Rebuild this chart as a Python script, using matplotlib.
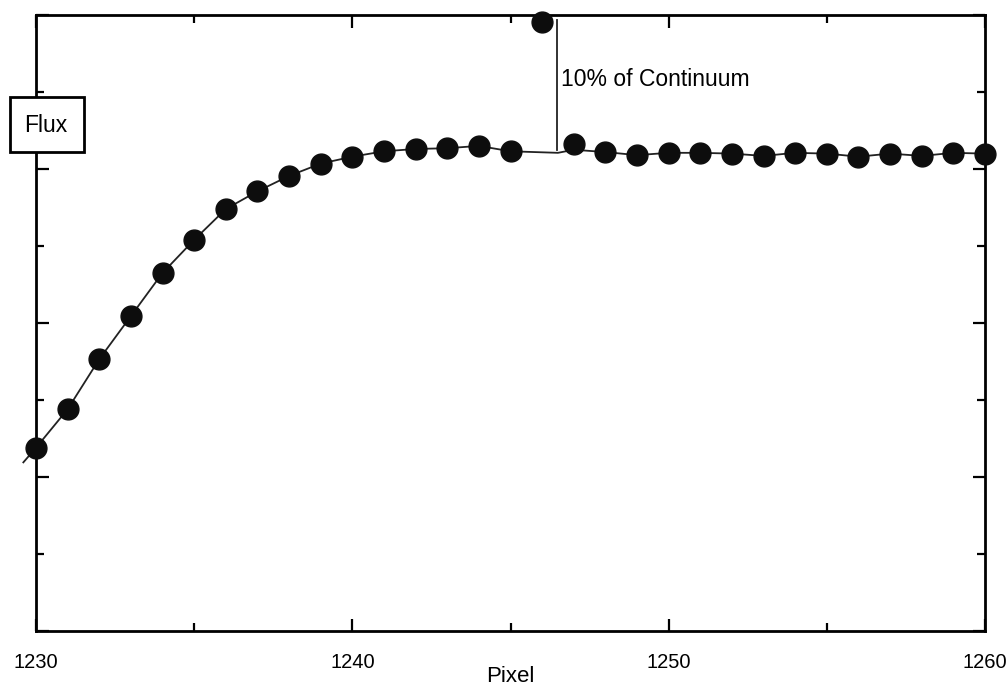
import matplotlib
matplotlib.use("Agg")
import matplotlib.pyplot as plt
from matplotlib.patches import Rectangle
from matplotlib.ticker import MultipleLocator

plt.rcParams['font.family'] = ['Liberation Sans', 'DejaVu Sans']

# Data (flux in arbitrary units)
pixels = [1230, 1231, 1232, 1233, 1234, 1235, 1236, 1237, 1238, 1239,
          1240, 1241, 1242, 1243, 1244, 1245, 1246, 1247, 1248, 1249,
          1250, 1251, 1252, 1253, 1254, 1255, 1256, 1257, 1258, 1259, 1260]
flux = [2.38, 2.88, 3.53, 4.09, 4.65, 5.08, 5.48, 5.71, 5.91, 6.07,
        6.16, 6.23, 6.26, 6.27, 6.30, 6.23, 7.91, 6.33, 6.22, 6.18,
        6.21, 6.21, 6.20, 6.17, 6.21, 6.20, 6.16, 6.20, 6.17, 6.21, 6.20]

# Continuum fit line
fit_pixels = [1229.6, 1230, 1231, 1232, 1233, 1234, 1235, 1236, 1237, 1238, 1239,
              1240, 1241, 1242, 1243, 1244, 1245, 1246.5, 1247, 1248, 1249,
              1250, 1251, 1252, 1253, 1254, 1255, 1256, 1257, 1258, 1259, 1260]
fit_flux = [2.19, 2.38, 2.88, 3.53, 4.09, 4.65, 5.08, 5.48, 5.71, 5.91, 6.07,
            6.16, 6.23, 6.26, 6.27, 6.30, 6.23, 6.21, 6.25, 6.22, 6.18,
            6.21, 6.21, 6.20, 6.17, 6.21, 6.20, 6.16, 6.20, 6.17, 6.21, 6.20]

x_ticks = [1230, 1240, 1250, 1260]
x_ticklabels = ["1230", "1240", "1250", "1260"]

fig = plt.figure(figsize=(10.08, 6.89), dpi=100)
ax = fig.add_axes([36/1008, 1-631/689, (985-36)/1008, (631-15)/689])

ax.plot(fit_pixels, fit_flux, color='#222222', lw=1.3, clip_on=False, zorder=2)
ax.plot(pixels, flux, 'o', color='#0d0d0d', ms=15, clip_on=False, zorder=3)

# 10% of continuum marker
ax.plot([1246.47, 1246.47], [6.25, 7.94], color='#222222', lw=1.3, zorder=2)
ax.text(1246.6, 7.16, "10% of Continuum", fontsize=16.5, va='center', ha='left')

ax.set_xlim(1230, 1260)
ax.set_ylim(0, 8)
ax.set_xticks(x_ticks)
ax.set_xticklabels(x_ticklabels)
ax.xaxis.set_minor_locator(MultipleLocator(5))
ax.yaxis.set_major_locator(MultipleLocator(2))
ax.yaxis.set_minor_locator(MultipleLocator(1))
ax.tick_params(which='both', direction='in', top=True, right=True,
               labelleft=False, width=1.6, labelsize=14.5)
ax.tick_params(axis='x', which='major', length=9, pad=16)
ax.tick_params(axis='x', which='minor', length=6)
ax.tick_params(axis='y', which='major', length=9)
ax.tick_params(axis='y', which='minor', length=6)
for s in ax.spines.values():
    s.set_linewidth(2)
ax.set_xlabel("Pixel", fontsize=16, labelpad=-4.5)

# Flux box
rect = Rectangle((10/1008, 1-152/689), 74/1008, 55/689, transform=fig.transFigure,
                 facecolor='white', edgecolor='black', lw=2, zorder=5)
fig.patches.append(rect)
fig.text(46/1008, 1-125/689, "Flux", fontsize=16.5, ha='center', va='center', zorder=6)

fig.savefig("out.png", dpi=100)
